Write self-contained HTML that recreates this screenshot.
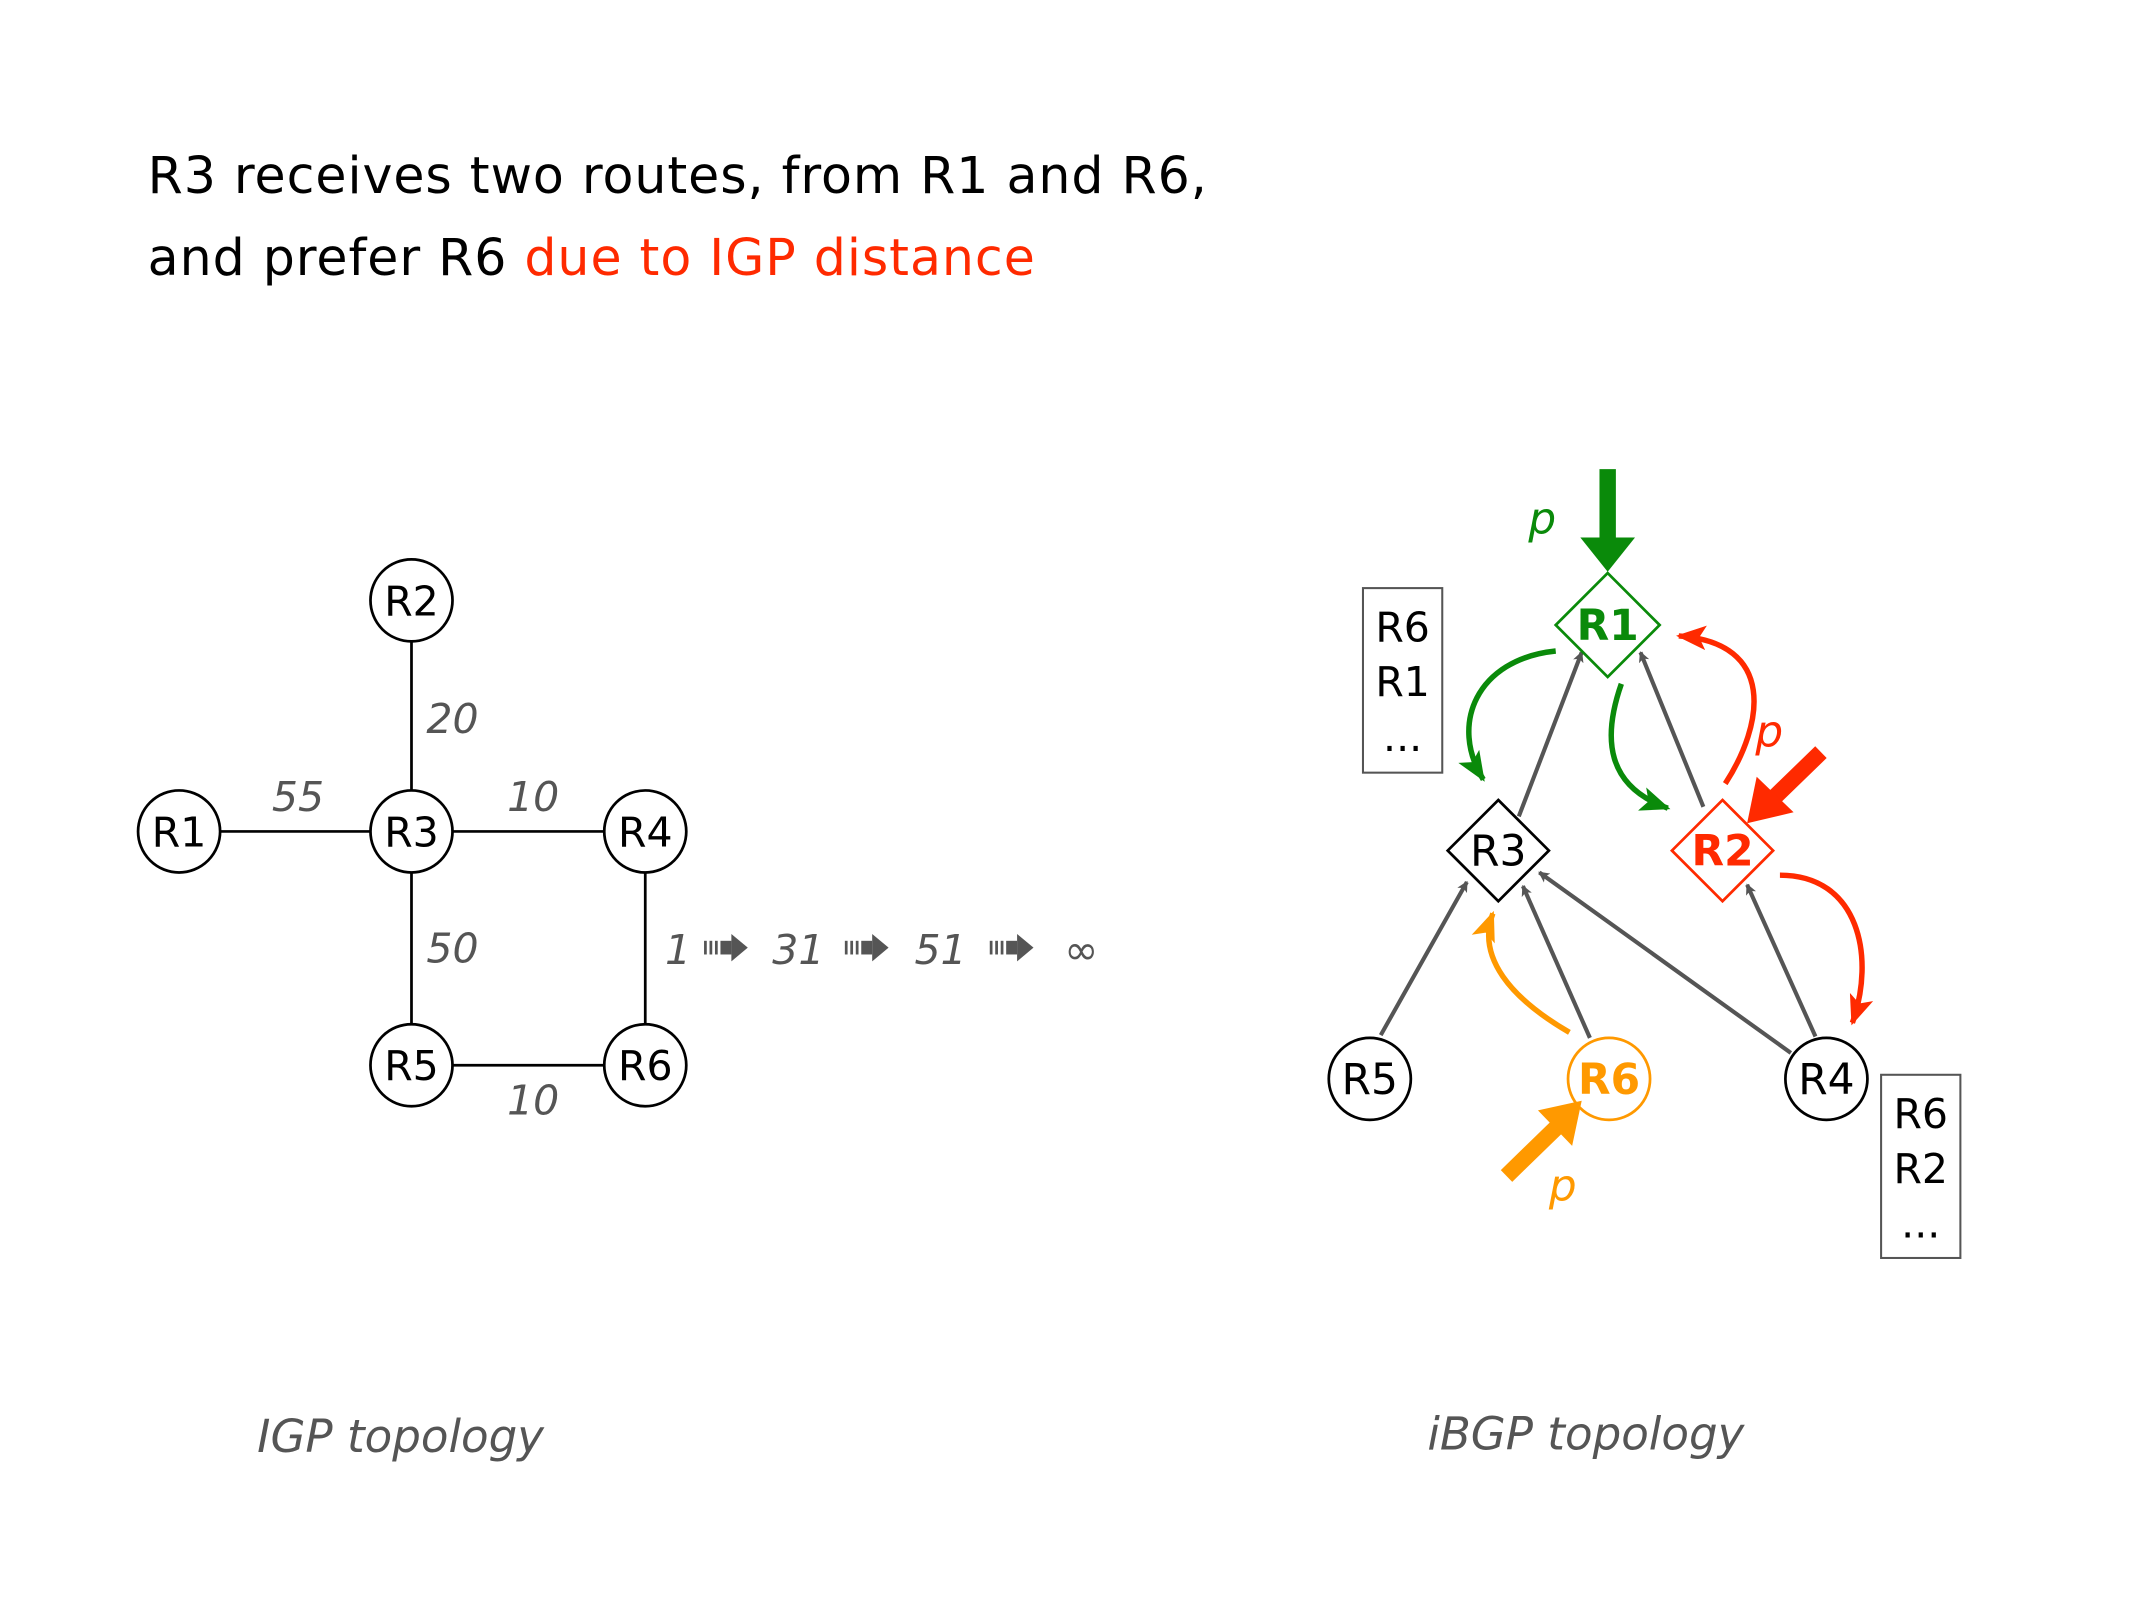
<!DOCTYPE html>
<html><head><meta charset="utf-8"><style>html,body{margin:0;padding:0;background:#fff}svg{display:block}</style></head>
<body>
<svg width="2134" height="1600" viewBox="0 0 1561 1170" xmlns="http://www.w3.org/2000/svg" font-family="'DejaVu Sans','Liberation Sans',sans-serif">
<defs>
<marker id="ag" markerWidth="8" markerHeight="8" refX="7" refY="4" orient="auto" markerUnits="userSpaceOnUse"><path d="M0,0 L8,4 L0,8 L2,4z" fill="#555"/></marker>
<marker id="gr" markerWidth="22" markerHeight="18" refX="20" refY="9" orient="auto" markerUnits="userSpaceOnUse"><path d="M0,0 L22,9 L0,18 L5,9z" fill="#0a8a0a"/></marker>
<marker id="rd" markerWidth="22" markerHeight="18" refX="20" refY="9" orient="auto" markerUnits="userSpaceOnUse"><path d="M0,0 L22,9 L0,18 L5,9z" fill="#ff2a00"/></marker>
<marker id="or" markerWidth="22" markerHeight="18" refX="20" refY="9" orient="auto" markerUnits="userSpaceOnUse"><path d="M0,0 L22,9 L0,18 L5,9z" fill="#ff9900"/></marker>
</defs>
<text x="108" y="141" font-size="37" letter-spacing="0.7">R3 receives two routes, from R1 and R6,</text>
<text x="108" y="201" font-size="37" letter-spacing="0.7">and prefer R6 <tspan fill="#ff2a00">due to IGP distance</tspan></text>

<g stroke="#000" stroke-width="2">
<line x1="301" y1="469" x2="301" y2="749"/><line x1="161" y1="608" x2="442" y2="608"/>
<line x1="472" y1="638" x2="472" y2="749"/><line x1="331" y1="779" x2="442" y2="779"/>
</g>
<g stroke="#000" stroke-width="2" fill="#fff">
<circle cx="301" cy="439" r="30"/><circle cx="131" cy="608" r="30"/><circle cx="301" cy="608" r="30"/>
<circle cx="472" cy="608" r="30"/><circle cx="301" cy="779" r="30"/><circle cx="472" cy="779" r="30"/>
</g>
<g font-size="30" text-anchor="middle">
<text x="301" y="450">R2</text><text x="131" y="619">R1</text><text x="301" y="619">R3</text>
<text x="472" y="619">R4</text><text x="301" y="790">R5</text><text x="472" y="790">R6</text>
</g>
<g font-size="30" font-style="italic" fill="#555" text-anchor="middle">
<text x="331" y="536">20</text><text x="218" y="593">55</text><text x="390" y="593">10</text>
<text x="331" y="704">50</text><text x="390" y="815">10</text>
<text x="496" y="705">1</text>
<text x="584" y="705">31</text>
<text x="688" y="705">51</text>
<text x="791" y="705" font-style="normal">∞</text>
<text x="293" y="1062" font-size="33">IGP topology</text>
<text x="1160" y="1060" font-size="33">iBGP topology</text>
</g>
<g fill="#555">
<g transform="translate(515,693)"><rect x="0" y="-5" width="2" height="10"/><rect x="4" y="-5" width="2" height="10"/><rect x="8" y="-5" width="2" height="10"/><rect x="12" y="-5" width="8" height="10"/><polygon points="20,-10 32,0 20,10"/></g>
<g transform="translate(618,693)"><rect x="0" y="-5" width="2" height="10"/><rect x="4" y="-5" width="2" height="10"/><rect x="8" y="-5" width="2" height="10"/><rect x="12" y="-5" width="8" height="10"/><polygon points="20,-10 32,0 20,10"/></g>
<g transform="translate(724,693)"><rect x="0" y="-5" width="2" height="10"/><rect x="4" y="-5" width="2" height="10"/><rect x="8" y="-5" width="2" height="10"/><rect x="12" y="-5" width="8" height="10"/><polygon points="20,-10 32,0 20,10"/></g>
</g>

<g stroke="#555" stroke-width="3" marker-end="url(#ag)">
<line x1="1111" y1="597" x2="1157" y2="477"/><line x1="1246" y1="590" x2="1200" y2="477"/>
<line x1="1010" y1="757" x2="1073" y2="645"/><line x1="1163" y1="759" x2="1114" y2="648"/>
<line x1="1310" y1="770" x2="1126" y2="638"/><line x1="1328" y1="758" x2="1278" y2="647"/>
</g>
<rect x="997" y="430" width="58" height="135" fill="#fff" stroke="#555" stroke-width="1.5"/>
<rect x="1376" y="786" width="58" height="134" fill="#fff" stroke="#555" stroke-width="1.5"/>
<g font-size="30" text-anchor="middle">
<text x="1026" y="469">R6</text><text x="1026" y="509">R1</text><text x="1026" y="549">...</text>
<text x="1405" y="825">R6</text><text x="1405" y="865">R2</text><text x="1405" y="905">...</text>
</g>

<polygon points="1176,419 1214,457 1176,495 1138,457" fill="#fff" stroke="#0a8a0a" stroke-width="2"/>
<polygon points="1096,585 1133,622 1096,659 1059,622" fill="#fff" stroke="#000" stroke-width="2"/>
<polygon points="1260,585 1297,622 1260,659 1223,622" fill="#fff" stroke="#ff2a00" stroke-width="2"/>
<circle cx="1002" cy="789" r="30" fill="#fff" stroke="#000" stroke-width="2"/>
<circle cx="1177" cy="789" r="30" fill="#fff" stroke="#ff9900" stroke-width="2"/>
<circle cx="1336" cy="789" r="30" fill="#fff" stroke="#000" stroke-width="2"/>
<g font-size="31" text-anchor="middle">
<text x="1176" y="468" fill="#0a8a0a" font-weight="bold">R1</text>
<text x="1096" y="633">R3</text>
<text x="1260" y="633" fill="#ff2a00" font-weight="bold">R2</text>
<text x="1002" y="800">R5</text>
<text x="1177" y="800" fill="#ff9900" font-weight="bold">R6</text>
<text x="1336" y="800">R4</text>
</g>

<g fill="none" stroke-width="4">
<path d="M1138,476 C1080,482 1060,530 1085,570" stroke="#0a8a0a" marker-end="url(#gr)"/>
<path d="M1186,500 C1172,540 1175,575 1220,591" stroke="#0a8a0a" marker-end="url(#gr)"/>
<path d="M1262,573 C1290,530 1300,470 1228,465" stroke="#ff2a00" marker-end="url(#rd)"/>
<path d="M1302,640 C1360,640 1372,700 1355,748" stroke="#ff2a00" marker-end="url(#rd)"/>
<path d="M1148,755 C1105,730 1080,700 1092,668" stroke="#ff9900" marker-end="url(#or)"/>
</g>
<line x1="1176" y1="343" x2="1176" y2="395" stroke="#0a8a0a" stroke-width="12"/>
<polygon points="1156,393 1196,393 1176,418" fill="#0a8a0a"/>
<line x1="1332" y1="550" x2="1298" y2="583" stroke="#ff2a00" stroke-width="12"/>
<polygon points="1285,568 1312,594 1278,602" fill="#ff2a00"/>
<line x1="1102" y1="860" x2="1138" y2="825" stroke="#ff9900" stroke-width="12"/>
<polygon points="1125,812 1150,838 1157,805" fill="#ff9900"/>
<g font-size="32" font-style="italic">
<text x="1118" y="390" fill="#0a8a0a">p</text>
<text x="1284" y="546" fill="#ff2a00">p</text>
<text x="1133" y="878" fill="#ff9900">p</text>
</g>
</svg>
</body></html>
